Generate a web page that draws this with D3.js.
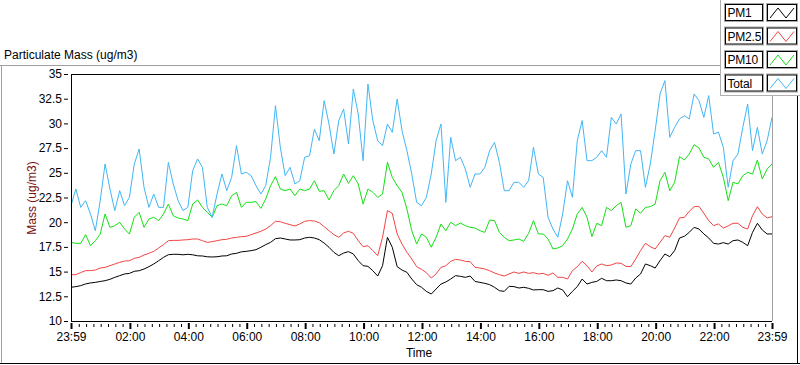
<!DOCTYPE html>
<html><head><meta charset="utf-8">
<script src="https://cdn.jsdelivr.net/npm/d3@7"></script>
<style>
body{margin:0;background:#fff;}
text{font-family:"Liberation Sans",Arial,sans-serif;}
</style>
</head><body>
<svg id="c" width="800" height="365"></svg>
<script>
// ---- data ----
const minutes = d3.range(0, 1441, 10); // minutes since 23:59, 10-min samples
const pm1 = [13.41,13.48,13.58,13.75,13.85,13.91,14.0,14.08,14.22,14.42,14.59,14.76,14.82,15.03,15.09,15.26,15.5,15.77,16.1,16.44,16.71,16.75,16.75,16.7,16.75,16.7,16.6,16.58,16.5,16.48,16.5,16.58,16.6,16.78,16.85,17.0,
17.05,17.12,17.22,17.46,17.73,17.96,18.33,18.4,18.3,18.2,18.2,18.23,18.4,18.47,18.4,18.23,17.89,17.46,16.95,16.61,16.88,17.02,16.78,16.11,15.6,15.53,15.09,14.55,15.6,18.47,17.46,15.5,15.16,14.93,14.25,13.68,
13.41,13.0,12.73,13.24,13.74,13.95,14.25,14.59,14.52,14.42,14.55,14.0,13.91,13.81,13.68,13.41,13.07,13.0,13.51,13.48,13.34,13.41,13.31,13.14,13.17,13.17,13.0,13.07,13.34,13.14,12.46,13.0,13.48,14.25,13.74,13.91,
14.01,14.32,14.08,14.08,14.15,14.08,13.85,13.74,14.35,14.76,15.77,15.6,15.36,16.11,16.78,16.51,17.12,18.4,18.57,18.97,19.48,19.31,18.81,18.4,17.86,17.79,17.93,17.79,18.13,18.2,17.96,17.62,18.97,19.89,19.21,18.81,18.81];
const pm25 = [14.69,14.69,14.9,15.1,15.1,15.16,15.36,15.43,15.6,15.77,15.94,16.07,16.1,16.34,16.44,16.68,16.85,17.05,17.39,17.73,18.13,18.16,18.16,18.2,18.23,18.3,18.3,18.13,17.96,18.03,18.13,18.23,18.27,18.4,18.47,18.54,
18.57,18.74,18.91,19.08,19.31,19.65,20.09,20.05,19.89,19.75,19.62,19.82,20.09,20.16,20.12,19.95,19.55,19.14,18.74,18.47,18.91,19.08,18.87,18.13,17.52,17.62,17.12,16.61,18.47,21.17,20.9,18.81,17.79,16.95,16.28,15.5,
15.23,14.89,14.35,14.76,15.43,15.6,16.04,16.24,16.17,16.04,16.0,15.43,15.36,15.26,15.09,14.86,14.69,14.55,14.76,14.96,14.82,14.96,14.82,14.89,14.76,14.82,14.62,14.86,14.42,14.42,14.25,15.09,15.5,16.04,15.6,14.96,
15.57,15.77,15.6,15.67,15.87,15.84,15.53,15.5,16.28,17.12,17.86,17.52,17.29,17.96,18.64,18.47,19.41,20.43,20.49,21.1,21.57,21.61,20.9,20.16,19.65,19.82,19.41,19.62,19.89,19.89,19.48,19.31,20.66,21.57,20.83,20.43,20.56];
const pm10 = [17.96,17.86,17.86,18.74,17.63,18.13,18.8,20.83,19.48,19.65,19.99,19.31,18.8,20.5,21.0,19.48,20.32,20.5,20.16,20.83,21.84,20.66,20.43,20.32,20.16,21.84,22.25,21.5,21.0,20.5,21.67,21.84,21.67,22.68,23.02,21.5,
22.01,22.01,22.08,21.4,22.35,23.7,24.61,23.36,23.19,23.36,22.69,23.36,23.19,23.36,24.2,23.12,23.19,22.25,23.19,23.7,24.88,23.93,24.71,23.87,21.84,23.36,23.02,22.52,22.85,26.06,24.54,23.7,23.02,21.34,19.14,17.79,
18.81,18.47,17.46,18.47,19.82,19.14,19.99,19.65,19.92,19.65,19.48,19.41,19.14,18.97,20.22,20.16,18.97,18.47,18.13,18.2,18.3,18.06,18.87,20.16,18.81,18.81,18.3,17.29,17.39,17.63,18.3,19.31,20.83,21.5,20.5,18.54,
19.89,19.65,21.5,21.17,21.67,22.01,19.48,19.65,21.34,20.9,21.5,21.57,21.84,24.2,25.05,23.19,24.04,26.63,26.3,26.9,27.85,27.51,26.57,26.4,25.55,26.06,24.54,22.18,24.04,23.87,24.71,25.05,24.88,26.3,24.37,25.38,25.89];
const total = [21.67,23.36,21.5,22.18,20.83,19.14,22.18,25.89,23.36,21.17,23.19,21.67,22.52,25.89,27.41,23.53,21.5,22.85,21.5,21.5,26.06,23.87,22.18,21.17,21.5,25.22,26.4,25.55,21.5,20.5,22.85,24.88,23.19,24.54,27.75,24.88,
25.05,24.71,23.7,22.85,23.7,26.57,31.79,27.58,24.71,25.55,23.87,24.2,26.57,26.73,29.43,28.25,32.3,29.94,26.9,30.28,31.46,27.91,33.48,30.95,26.23,33.99,30.28,28.25,27.75,29.94,29.1,32.47,29.26,27.24,24.88,22.01,
21.67,22.52,24.88,28.25,29.94,22.01,28.59,26.23,26.57,25.38,23.53,24.88,24.88,25.55,27.24,28.08,26.06,23.19,23.19,24.04,24.04,23.53,24.2,27.58,24.88,24.54,20.49,19.31,18.47,20.83,24.2,22.52,28.25,30.28,26.23,26.23,
26.57,27.24,26.57,30.61,29.94,30.95,22.85,25.89,27.24,27.24,23.53,25.89,29.26,32.98,34.33,28.59,29.6,30.45,30.78,30.45,32.98,32.3,30.61,32.81,28.93,29.1,27.58,23.53,26.23,26.9,29.6,31.96,27.24,29.6,26.9,28.25,30.61];
const seriesNames = ["PM1","PM2.5","PM10","Total"];
const seriesColors = ["#000000","#f24444","#14e014","#41b6f5"];
const yTicks = [10,12.5,15,17.5,20,22.5,25,27.5,30,32.5,35];
const xTickLabels = ["23:59","02:00","04:00","06:00","08:00","10:00","12:00","14:00","16:00","18:00","20:00","22:00","23:59"];
const xTickMinutes = [0,121,241,361,481,601,721,841,961,1081,1201,1321,1440];

// ---- drawing ----
const svg = d3.select("#c");
const L = 71, R = 772, T = 74, B = 321;
const x = d3.scaleLinear().domain([0,1440]).range([L,R]);
const y = d3.scaleLinear().domain([10,35]).range([B,T]);

// outer frame lines
svg.append("line").attr("x1",0).attr("x2",722).attr("y1",65.5).attr("y2",65.5).attr("stroke","#a0a0a0");
svg.append("line").attr("x1",1.5).attr("x2",1.5).attr("y1",65).attr("y2",363).attr("stroke","#a0a0a0");
svg.append("line").attr("x1",0).attr("x2",800).attr("y1",363.5).attr("y2",363.5).attr("stroke","#000");
svg.append("line").attr("x1",797.5).attr("x2",797.5).attr("y1",95).attr("y2",364).attr("stroke","#000");

// title
svg.append("text").attr("x",4).attr("y",59).attr("font-size",12).attr("fill","#000").text("Particulate Mass (ug/m3)");

// plot frame
svg.append("line").attr("x1",L).attr("x2",R).attr("y1",T+0.5).attr("y2",T+0.5).attr("stroke","#000");
svg.append("line").attr("x1",R+0.5).attr("x2",R+0.5).attr("y1",T).attr("y2",B).attr("stroke","#a0a0a0");

// lines
const series = [pm1, pm25, pm10, total];
const lineGen = d3.line().x((d,i)=>x(minutes[i])).y(d=>y(d));
series.forEach((s,k)=>{
  svg.append("path").datum(s).attr("d",lineGen).attr("fill","none")
    .attr("stroke",seriesColors[k]).attr("stroke-width",1);
});

// axes lines
svg.append("line").attr("x1",L+0.5).attr("x2",L+0.5).attr("y1",T).attr("y2",B+1).attr("stroke","#000");
svg.append("line").attr("x1",L).attr("x2",R).attr("y1",B+0.5).attr("y2",B+0.5).attr("stroke","#000");

// y axis
const yAx = svg.append("g").attr("transform","translate(68,0)")
  .call(d3.axisLeft(y).tickValues(yTicks).tickSizeInner(4).tickSizeOuter(0).tickPadding(2).tickFormat(d=>String(d)));
yAx.select(".domain").remove();
yAx.selectAll("text").attr("font-size",12).attr("font-family","Liberation Sans, Arial, sans-serif").attr("fill","#000");
yAx.selectAll("line").attr("stroke","#000");

// x axis: minor ticks
const minorT = [];
for (let m = 121 - 15*8; m <= 1440; m += 15) { if (m > 0 && m < 1440 && (m-121) % 120 !== 0) minorT.push(m); }
const xMin = svg.append("g").attr("transform",`translate(0,${B+3})`)
  .call(d3.axisBottom(x).tickValues(minorT).tickSizeInner(3).tickSizeOuter(0).tickFormat(""));
xMin.select(".domain").remove();
xMin.selectAll("line").attr("stroke","#000");

const xAx = svg.append("g").attr("transform",`translate(0,${B+2})`)
  .call(d3.axisBottom(x).tickValues(xTickMinutes).tickSizeInner(6).tickSizeOuter(0).tickPadding(3)
    .tickFormat((d,i)=>xTickLabels[i]));
xAx.select(".domain").remove();
xAx.selectAll("line").attr("stroke","#000").attr("stroke-width",2);
xAx.selectAll("text").attr("font-size",12).attr("font-family","Liberation Sans, Arial, sans-serif").attr("fill","#000");

// axis titles
svg.append("text").attr("x",419).attr("y",357).attr("text-anchor","middle").attr("font-size",12).attr("fill","#000").text("Time");
svg.append("text").attr("transform","translate(36,198) rotate(-90)").attr("text-anchor","middle")
  .attr("font-size",12).attr("fill","#7a1010").text("Mass (ug/m3)");

// legend
const lg = svg.append("g");
lg.append("rect").attr("x",720.5).attr("y",-1).attr("width",85).attr("height",96.5).attr("fill","#fff").attr("stroke","#b0b0b0");
seriesNames.forEach((n,k)=>{
  const y0 = 4 + k*23.5;
  lg.append("rect").attr("x",724.5).attr("y",y0-0.5).attr("width",39).attr("height",18).attr("fill","none").attr("stroke","#a8a8a8");
  lg.append("rect").attr("x",725.5).attr("y",y0+0.5).attr("width",37).attr("height",16).attr("fill","#fff").attr("stroke","#000");
  lg.append("text").attr("x",727.5).attr("y",y0+13).attr("font-size",12).attr("letter-spacing",-0.2).attr("fill","#000").text(n);
  lg.append("rect").attr("x",766.5).attr("y",y0-0.5).attr("width",31).attr("height",18).attr("fill","none").attr("stroke","#a8a8a8");
  lg.append("rect").attr("x",767.5).attr("y",y0+0.5).attr("width",29).attr("height",16).attr("fill","#fff").attr("stroke","#000");
  lg.append("path").attr("d",`M770,${y0+14} L778,${y0+4} L786,${y0+14} L794,${y0+4}`)
    .attr("fill","none").attr("stroke",seriesColors[k]).attr("stroke-width",1);
});
</script>
</body></html>
